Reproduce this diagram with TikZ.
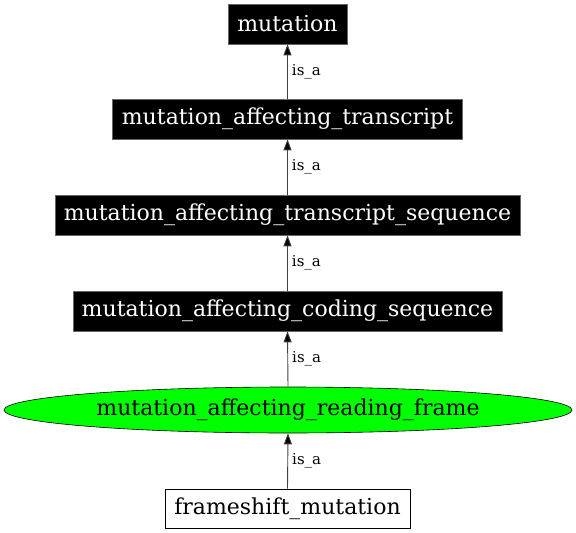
\documentclass[tikz,border=0pt]{standalone}
\usepackage{fontspec}
\setmainfont{DejaVu Serif}
\usetikzlibrary{shapes.geometric,arrows.meta}
\begin{document}
\begin{tikzpicture}[x=1pt,y=-1pt,
  mainfont/.style={font=\fontsize{22}{22}\selectfont},
  blk/.style={mainfont,fill=black,text=white,draw=black!60,line width=0.6pt,minimum height=40pt,inner sep=0pt},
  wbox/.style={mainfont,fill=white,draw=black,line width=0.6pt,minimum height=39pt,inner sep=0pt},
  ell/.style={mainfont,ellipse,fill=green,draw=black,line width=0.6pt,minimum width=568pt,minimum height=46pt,inner sep=0pt},
  edge/.style={draw=black!75,line width=0.9pt,-{Triangle[length=11pt,width=8pt,fill=black]}},
  lbl/.style={font=\fontsize{15}{15}\selectfont,anchor=west,inner sep=0pt,xshift=4pt}
]
\useasboundingbox (0,0) rectangle (576,533);
\node[blk,minimum width=119pt] (mut) at (287.5,24) {mutation};
\node[blk,minimum width=350pt] (tr) at (287.5,119) {mutation\_affecting\_transcript};
\node[blk,minimum width=465pt] (ts) at (287.5,215) {mutation\_affecting\_transcript\_sequence};
\node[blk,minimum width=429pt] (cs) at (287.5,311) {mutation\_affecting\_coding\_sequence};
\node[ell] (rf) at (288,410) {mutation\_affecting\_reading\_frame};
\node[wbox,minimum width=245pt] (fs) at (287.5,508.5) {frameshift\_mutation};
\draw[edge] (tr.north) -- node[lbl] (l1) {is\_a} (mut.south);
\draw[edge] (ts.north) -- node[lbl] (l2) {is\_a} (tr.south);
\draw[edge] (cs.north) -- node[lbl] (l3) {is\_a} (ts.south);
\draw[edge] (rf.north) -- node[lbl] (l4) {is\_a} (cs.south);
\draw[edge] (fs.north) -- node[lbl] (l5) {is\_a} (rf.south);
\end{tikzpicture}
\end{document}
